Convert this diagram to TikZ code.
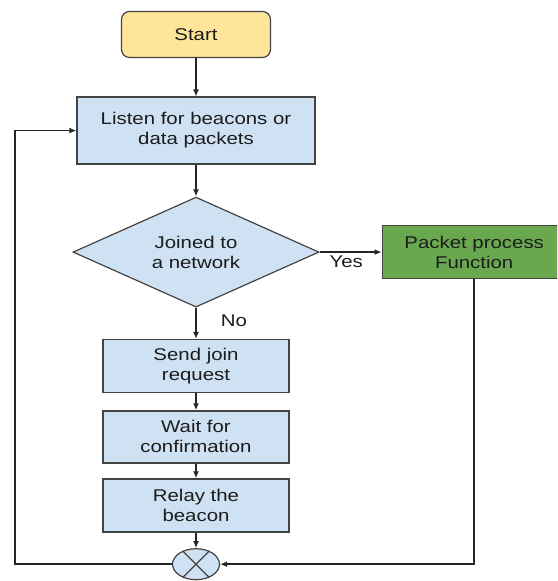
\documentclass[tikz,border=0pt]{standalone}
\usepackage{fontspec}
\setmainfont{Liberation Sans}[FakeStretch=1.2]
\usetikzlibrary{arrows.meta,positioning,shapes.geometric}
\definecolor{startyellow}{RGB}{255,229,153}
\definecolor{stepblue}{RGB}{207,226,243}
\definecolor{procgreen}{RGB}{106,168,79}
\definecolor{edgegray}{RGB}{67,67,67}
\definecolor{textgray}{RGB}{28,28,28}

\begin{document}
\begin{tikzpicture}[
    node distance=8.5pt,
    font=\fontsize{8.5}{10}\selectfont,
    box/.style={draw=edgegray, line width=0.6pt, minimum width=93pt, minimum height=26.5pt, align=center, fill=stepblue, text=textgray, inner sep=2pt},
    decision/.style={diamond, draw=edgegray, line width=0.6pt, aspect=2.24, minimum width=123pt, minimum height=55pt, inner sep=0pt, align=center, fill=stepblue, text=textgray},
    arrow/.style={-{Latex[length=3.5pt,width=3pt]}, line width=0.8pt, black!85},
    lbl/.style={inner sep=0pt, text=textgray}
  ]
    \useasboundingbox (0,0) rectangle (278.5pt,-290.5pt);
    \clip (0,0) rectangle (278.5pt,-290.5pt);
    \node[box, rounded corners=4pt, fill=startyellow, minimum width=74.5pt, minimum height=23pt] (start) at (98pt,-17.25pt) {Start};
    \node[box, below=19.2pt of start, minimum width=119pt, minimum height=33.5pt] (listen) {Listen for beacons or\\data packets};
    \node[decision, below=15.9pt of listen] (joined) {Joined to\\a network};
    \node[box, right=31pt of joined, fill=procgreen, minimum width=92pt] (packet) {Packet process\\Function};
    \node[box, below=15.6pt of joined] (join) {Send join\\request};
    \node[box, below=8.6pt of join, minimum height=26pt] (confirm) {Wait for\\confirmation};
    \node[box, below=7.4pt of confirm] (relay) {Relay the\\beacon};
    \node[ellipse, draw=edgegray, line width=0.6pt, fill=stepblue, minimum width=23.5pt, minimum height=15.5pt, inner sep=0pt, below=7.8pt of relay] (merge) {};
    \draw[edgegray, line width=0.6pt] (merge.45) -- (merge.225) (merge.135) -- (merge.315);
    \draw[arrow] (start) -- (listen);
    \draw[arrow] (listen) -- (joined);
    \draw[arrow] (joined.east) -- (packet.west) node[lbl, below=1.5pt, pos=0.43] (yes) {Yes};
    \draw[arrow] (joined.south) -- (join) node[lbl, right=12pt, pos=0.42] (no) {No};
    \draw[arrow] (join) -- (confirm);
    \draw[arrow] (confirm) -- (relay);
    \draw[arrow] (relay) -- (merge);
    \draw[arrow] (packet.south) |- (merge.east);
    \draw[arrow] (merge.west) -| ([xshift=-30.85pt]listen.west) -- (listen.west);
  \end{tikzpicture}
\end{document}
